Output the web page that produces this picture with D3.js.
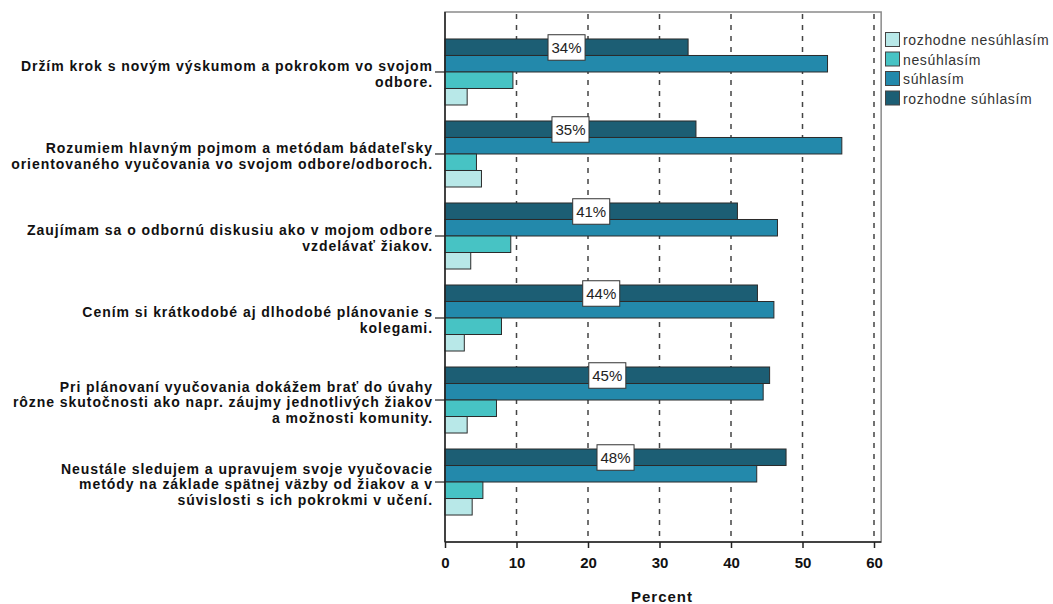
<!DOCTYPE html>
<html>
<head>
<meta charset="utf-8">
<script src="https://cdn.jsdelivr.net/npm/d3@7"></script>
<style>
  body { margin: 0; background: #fff; }
  svg { display: block; font-family: "Liberation Sans", Arial, sans-serif; }
</style>
</head>
<body>
<svg id="chart" width="1053" height="604"></svg>
<script>
// Survey statements (each entry is the list of wrapped lines)
const categories = [
  ["Držím krok s novým výskumom a pokrokom vo svojom", "odbore."],
  ["Rozumiem hlavným pojmom a metódam bádateľsky", "orientovaného vyučovania vo svojom odbore/odboroch."],
  ["Zaujímam sa o odbornú diskusiu ako v mojom odbore", "vzdelávať žiakov."],
  ["Cením si krátkodobé aj dlhodobé plánovanie s", "kolegami."],
  ["Pri plánovaní vyučovania dokážem brať do úvahy", "rôzne skutočnosti ako napr. záujmy jednotlivých žiakov", "a možnosti komunity."],
  ["Neustále sledujem a upravujem svoje vyučovacie", "metódy na základe spätnej väzby od žiakov a v", "súvislosti s ich pokrokmi v učení."]
];

// Response levels, in legend order
const seriesNames = ["rozhodne nesúhlasím", "nesúhlasím", "súhlasím", "rozhodne súhlasím"];
const seriesColors = ["#b8e8e8", "#47c3c4", "#2389ab", "#1c5e74"];

// Percent of respondents per statement
const stronglyDisagree = [3.1, 5.1, 3.6, 2.7, 3.1, 3.8];
const disagree         = [9.5, 4.4, 9.2, 7.9, 7.2, 5.3];
const agree            = [53.5, 55.5, 46.5, 46.0, 44.5, 43.6];
const stronglyAgree    = [34.0, 35.1, 40.9, 43.7, 45.4, 47.7];

// Labels shown on the "rozhodne súhlasím" bars
const agreeLabels = ["34%", "35%", "41%", "44%", "45%", "48%"];

const xTicks = [0, 10, 20, 30, 40, 50, 60];

const seriesValues = [stronglyDisagree, disagree, agree, stronglyAgree];
// Bars inside a group are drawn from strongest agreement (top) to strongest disagreement
const barOrder = [3, 2, 1, 0];

const svg = d3.select("#chart");
const plot = { left: 445, top: 12, bottom: 542 };

const x = d3.scaleLinear().domain([0, 60]).range([445, 874]);
const xMax = 61;

const y = d3.scaleBand()
  .domain(d3.range(categories.length))
  .range([plot.top, plot.bottom])
  .paddingInner(0.195)
  .paddingOuter(0.329);

const yInner = d3.scaleBand()
  .domain(barOrder)
  .range([0, y.bandwidth()]);

// Plot frame
svg.append("rect")
  .attr("x", x(0)).attr("y", plot.top)
  .attr("width", x(xMax) - x(0)).attr("height", plot.bottom - plot.top)
  .attr("fill", "none").attr("stroke", "#8a8a8a").attr("stroke-width", 1.5);

// Dashed vertical gridlines
svg.append("g").selectAll("line")
  .data(xTicks.filter(t => t > 0))
  .join("line")
  .attr("x1", d => x(d)).attr("x2", d => x(d))
  .attr("y1", plot.top + 2).attr("y2", plot.bottom)
  .attr("stroke", "#444").attr("stroke-width", 1.5)
  .attr("stroke-dasharray", "5,6");

// Bars
const groups = svg.append("g").selectAll("g")
  .data(categories)
  .join("g")
  .attr("transform", (d, i) => `translate(0,${y(i)})`);

groups.each(function(d, i) {
  const g = d3.select(this);
  barOrder.forEach(s => {
    const v = seriesValues[s][i];
    g.append("rect")
      .attr("x", x(0))
      .attr("y", yInner(s))
      .attr("width", x(v) - x(0))
      .attr("height", yInner.bandwidth())
      .attr("fill", seriesColors[s])
      .attr("stroke", "#2b2b2b")
      .attr("stroke-width", 1);
  });
});

// Value labels on the strongly-agree bars
groups.each(function(d, i) {
  const g = d3.select(this);
  const v = stronglyAgree[i];
  const cx = x(v / 2);
  const cy = yInner(3) + yInner.bandwidth() / 2;
  const t = g.append("text")
    .attr("x", cx).attr("y", cy + 0.5)
    .attr("text-anchor", "middle")
    .attr("dominant-baseline", "central")
    .attr("font-size", 15)
    .attr("fill", "#222")
    .text(agreeLabels[i]);
  const w = t.node().getComputedTextLength() + 7;
  g.insert("rect", "text")
    .attr("x", cx - w / 2).attr("y", cy - 12.5)
    .attr("width", w).attr("height", 25.5)
    .attr("fill", "#fff").attr("stroke", "#333").attr("stroke-width", 1);
});

// Category axis line and ticks
svg.append("line")
  .attr("x1", x(0)).attr("x2", x(0))
  .attr("y1", plot.top).attr("y2", plot.bottom)
  .attr("stroke", "#222").attr("stroke-width", 1.5);

const catAxis = svg.append("g");
categories.forEach((lines, i) => {
  const cy = y(i) + y.bandwidth() / 2;
  catAxis.append("line")
    .attr("x1", x(0) - 10).attr("x2", x(0))
    .attr("y1", cy).attr("y2", cy)
    .attr("stroke", "#222").attr("stroke-width", 1.2);
  const lh = 15.5;
  const top = cy - (lines.length - 1) * lh / 2 + 2;
  const t = catAxis.append("text")
    .attr("text-anchor", "end")
    .attr("font-size", 14)
    .attr("font-weight", "bold")
    .attr("letter-spacing", 0.95)
    .attr("fill", "#111");
  lines.forEach((ln, k) => {
    t.append("tspan")
      .attr("x", 433)
      .attr("y", top + k * lh)
      .attr("dominant-baseline", "central")
      .text(ln);
  });
});

// Percent axis
const xAxis = svg.append("g")
  .attr("transform", `translate(0,${plot.bottom})`)
  .call(d3.axisBottom(x).tickValues(xTicks).tickSize(6).tickPadding(9).tickFormat(d3.format("d")));
xAxis.select(".domain").attr("stroke", "#222").attr("stroke-width", 1.5)
  .attr("d", `M${x(0)},0H${x(xMax)}`);
xAxis.selectAll(".tick line").attr("stroke", "#222").attr("stroke-width", 1.5);
xAxis.selectAll(".tick text")
  .attr("font-family", "'Liberation Sans', Arial, sans-serif")
  .attr("font-size", 15).attr("font-weight", "bold").attr("fill", "#111");

svg.append("text")
  .attr("x", 662).attr("y", 602)
  .attr("text-anchor", "middle")
  .attr("font-size", 15).attr("font-weight", "bold")
  .attr("letter-spacing", 1)
  .attr("fill", "#111")
  .text("Percent");

// Legend
const legend = svg.append("g").attr("transform", "translate(885,32)");
seriesNames.forEach((name, i) => {
  const row = legend.append("g").attr("transform", `translate(0,${i * 19.5})`);
  row.append("rect")
    .attr("x", 0.5).attr("y", 0.5).attr("width", 14).attr("height", 14)
    .attr("fill", seriesColors[i]).attr("stroke", "#444").attr("stroke-width", 1);
  row.append("text")
    .attr("x", 18).attr("y", 8)
    .attr("dominant-baseline", "central")
    .attr("font-size", 14)
    .attr("letter-spacing", 0.65)
    .attr("fill", "#333")
    .text(name);
});
</script>
</body>
</html>
